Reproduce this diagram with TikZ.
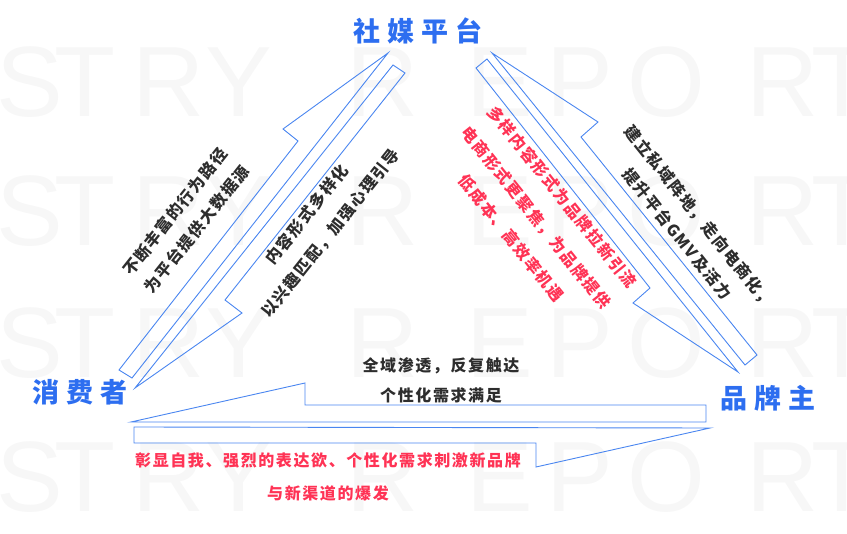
\documentclass[tikz,border=0pt]{standalone}
\usepackage{fontspec}
\newfontfamily\cjktxt[LetterSpace=10]{Noto Sans CJK SC}
\newfontfamily\cjktitle[LetterSpace=25]{Noto Sans CJK SC}
\newfontfamily\wmfont{Liberation Sans}
\definecolor{lineblue}{RGB}{74,134,240}
\definecolor{titleblue}{RGB}{45,110,240}
\definecolor{txtdark}{RGB}{45,45,45}
\definecolor{txtred}{RGB}{255,51,85}
\definecolor{wmgray}{RGB}{247,247,247}
\tikzset{
  halfarrow/.style={draw=lineblue, line width=0.9pt, line join=miter},
  titlelabel/.style={text=titleblue, inner sep=0pt, font={\cjktitle\fontsize{27}{30}\selectfont\bfseries}},
  darktext/.style={text=txtdark, inner sep=0pt, align=center},
  redtext/.style={text=txtred, inner sep=0pt, align=center},
  wmletter/.style={text=wmgray, inner sep=0pt, anchor=west, font={\wmfont\fontsize{100}{100}\selectfont}}
}
\begin{document}
\begin{tikzpicture}[x=1pt,y=-1pt]
\useasboundingbox (0,0) rectangle (847,534);
% watermark
\foreach \yy in {82,211,343,477}{
  \foreach \xx/\ch in {-4/S,54/T,132/R,205/Y,346/R,466/E,546/P,627/O,746/R,811/T}{
    \node[wmletter] at (\xx,\yy) {\ch};
  }
}
% left pair: consumer <-> platform
\draw[halfarrow] (388,53) -- (283,129) -- (298,141) -- (119,370) -- (132,378) -- cycle;
\draw[halfarrow] (135,388) -- (242,313) -- (225,300) -- (405,73) -- (393,65) -- cycle;
% right pair: platform <-> brand
\draw[halfarrow] (492,53) -- (598,122) -- (581,137) -- (757,355) -- (745,365) -- cycle;
\draw[halfarrow] (487,59) -- (738,372) -- (633,303) -- (650,288) -- (476,68) -- cycle;
% bottom pair: consumer <-> brand
\draw[halfarrow] (131,422) -- (305,383) -- (305,405) -- (706,405) -- (706,422) -- cycle;
\draw[halfarrow] (134,427) -- (710,428) -- (536,467) -- (536,443) -- (134,443) -- cycle;
% main labels
\node[titlelabel] (platform) at (418,31) {社媒平台};
\node[titlelabel] (consumer) at (80,392) {消费者};
\node[titlelabel] (brand) at (768,398) {品牌主};
% texts along arrows
\node[darktext, rotate=51.5, font={\cjktxt\fontsize{16}{28}\selectfont\bfseries}] (t1) at (186,220.5) {不断丰富的行为路径\\为平台提供大数据源};
\node[darktext, rotate=51.5, font={\cjktxt\fontsize{16}{30}\selectfont\bfseries}] (t2) at (319,224) {内容形式多样化\\以兴趣匹配，加强心理引导};
\node[redtext, rotate=-51.3, font={\cjktxt\fontsize{16}{33}\selectfont\bfseries}] (t3) at (536.7,217.5) {多样内容形式为品牌拉新引流\\电商形式更聚焦，为品牌提供\\低成本、高效率机遇};
\node[darktext, rotate=-51.3, font={\cjktxt\fontsize{16}{28}\selectfont\bfseries}] (t4) at (688,225) {建立私域阵地，走向电商化，\\提升平台GMV及活力};
\node[darktext, font={\cjktxt\fontsize{16}{30}\selectfont\bfseries}] (t5) at (441,380) {全域渗透，反复触达\\个性化需求满足};
\node[redtext, font={\cjktxt\fontsize{16}{33}\selectfont\bfseries}] (t6) at (328,476.5) {彰显自我、强烈的表达欲、个性化需求刺激新品牌\\与新渠道的爆发};
\end{tikzpicture}
\end{document}
